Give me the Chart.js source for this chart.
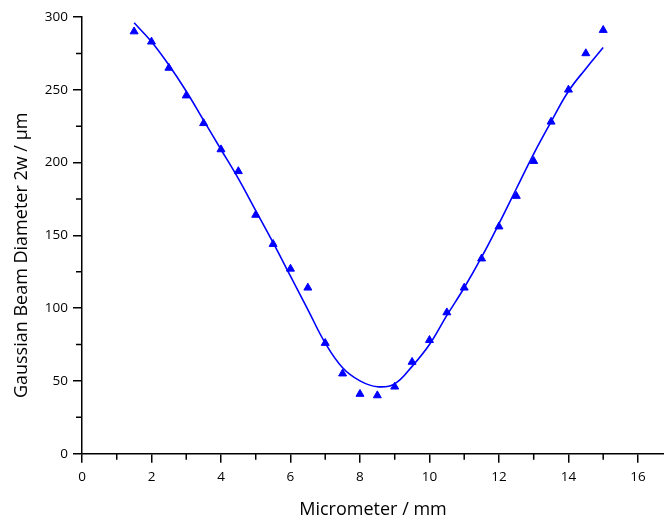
<!DOCTYPE html>
<html>
<head>
<meta charset="utf-8">
<title>Gaussian beam diameter vs micrometer position</title>
<script src="https://cdn.jsdelivr.net/npm/chart.js@4/dist/chart.umd.min.js"></script>
<style>
  html, body { margin: 0; padding: 0; background: #ffffff; }
  #wrap { width: 664px; height: 522px; }
</style>
</head>
<body>
<div id="wrap"><canvas id="beam" width="664" height="522"></canvas></div>
<script>
// Micrometer positions (mm)
const positions = [1.5, 2, 2.5, 3, 3.5, 4, 4.5, 5, 5.5, 6, 6.5, 7, 7.5, 8, 8.5,
                   9, 9.5, 10, 10.5, 11, 11.5, 12, 12.5, 13, 13.5, 14, 14.5, 15];
// Measured beam diameter 2w (µm)
const measuredDiameter = [290, 283, 265, 246, 227, 209, 194, 164, 144, 127, 114, 76, 55, 41, 40,
                          46, 63, 78, 97, 114, 134, 156, 177, 201, 228, 250, 275, 291];
// Fitted beam diameter 2w (µm) at the same positions
const fitDiameter = [296, 283, 267, 249, 229, 209, 189, 167, 145, 122, 99, 76, 59, 50, 46,
                     48, 60, 75, 95, 114, 135, 158, 182, 206, 228, 249, 264.5, 279];

// Axis ticks
const xMajorTicks = [0, 2, 4, 6, 8, 10, 12, 14, 16];
const xMinorTicks = [1, 3, 5, 7, 9, 11, 13, 15];
const yMajorTicks = [0, 50, 100, 150, 200, 250, 300];
const yMinorTicks = [25, 75, 125, 175, 225, 275];

const xTitle = 'Micrometer / mm';
const yTitle = 'Gaussian Beam Diameter 2w / µm';

const BLUE = '#0000ff';
const FONT = '"Open Sans", "DejaVu Sans", sans-serif';

const measuredPoints = positions.map((x, i) => ({ x, y: measuredDiameter[i] }));
const fitPoints = positions.map((x, i) => ({ x, y: fitDiameter[i] }));

// Short unlabeled minor ticks on both axes, plus the rotated y-axis title
const axisExtras = {
  id: 'axisExtras',
  afterDraw(chart) {
    const ctx = chart.ctx;
    const xs = chart.scales.x, ys = chart.scales.y;
    const area = chart.chartArea;
    ctx.save();
    ctx.strokeStyle = '#000';
    ctx.lineWidth = 1.5;
    ctx.beginPath();
    xMinorTicks.forEach(v => {
      const px = xs.getPixelForValue(v);
      ctx.moveTo(px, area.bottom);
      ctx.lineTo(px, area.bottom + 6);
    });
    yMinorTicks.forEach(v => {
      const py = ys.getPixelForValue(v);
      ctx.moveTo(area.left, py);
      ctx.lineTo(area.left - 6, py);
    });
    ctx.stroke();

    ctx.translate(22, (area.top + area.bottom) / 2 + 20);
    ctx.rotate(-Math.PI / 2);
    ctx.fillStyle = '#000';
    ctx.font = '18px ' + FONT;
    ctx.textAlign = 'center';
    ctx.textBaseline = 'middle';
    ctx.fillText(yTitle, 0, 0);
    ctx.restore();
  }
};

new Chart(document.getElementById('beam'), {
  type: 'scatter',
  data: {
    datasets: [
      {
        label: 'Fit',
        data: fitPoints,
        showLine: true,
        borderColor: BLUE,
        borderWidth: 1.6,
        pointRadius: 0,
        tension: 0.4,
        order: 2
      },
      {
        label: 'Measured',
        data: measuredPoints,
        showLine: false,
        pointStyle: 'triangle',
        pointRadius: 4.6,
        backgroundColor: BLUE,
        borderColor: BLUE,
        borderWidth: 1,
        order: 1
      }
    ]
  },
  options: {
    responsive: false,
    devicePixelRatio: 1,
    animation: false,
    layout: { autoPadding: false, padding: { top: 17, right: 0, bottom: 0, left: 0 } },
    plugins: {
      legend: { display: false },
      tooltip: { enabled: false }
    },
    scales: {
      x: {
        type: 'linear',
        min: 0,
        max: 16.75,
        afterBuildTicks: s => { s.ticks = xMajorTicks.map(v => ({ value: v })); },
        afterFit: s => { s.height = 68.3; s.paddingRight = 0; s.paddingLeft = 0; },
        border: { display: true, color: '#000', width: 1.5 },
        grid: { drawOnChartArea: false, drawTicks: true, tickLength: 9, tickColor: '#000', tickWidth: 1.5, lineWidth: 1.5 },
        ticks: { color: '#000', font: { family: FONT, size: 13.5 }, padding: 6, maxRotation: 0 },
        title: { display: true, text: xTitle, color: '#000', font: { family: FONT, size: 18 }, padding: { top: 0, bottom: 1 } }
      },
      y: {
        type: 'linear',
        min: 0,
        max: 300,
        afterBuildTicks: s => { s.ticks = yMajorTicks.map(v => ({ value: v })); },
        afterFit: s => { s.width = 82; },
        border: { display: true, color: '#000', width: 1.5 },
        grid: { drawOnChartArea: false, drawTicks: true, tickLength: 9, tickColor: '#000', tickWidth: 1.5, lineWidth: 1.5 },
        ticks: { color: '#000', font: { family: FONT, size: 13.5 }, padding: 5 },
        title: { display: false }
      }
    }
  },
  plugins: [axisExtras]
});
</script>
</body>
</html>
